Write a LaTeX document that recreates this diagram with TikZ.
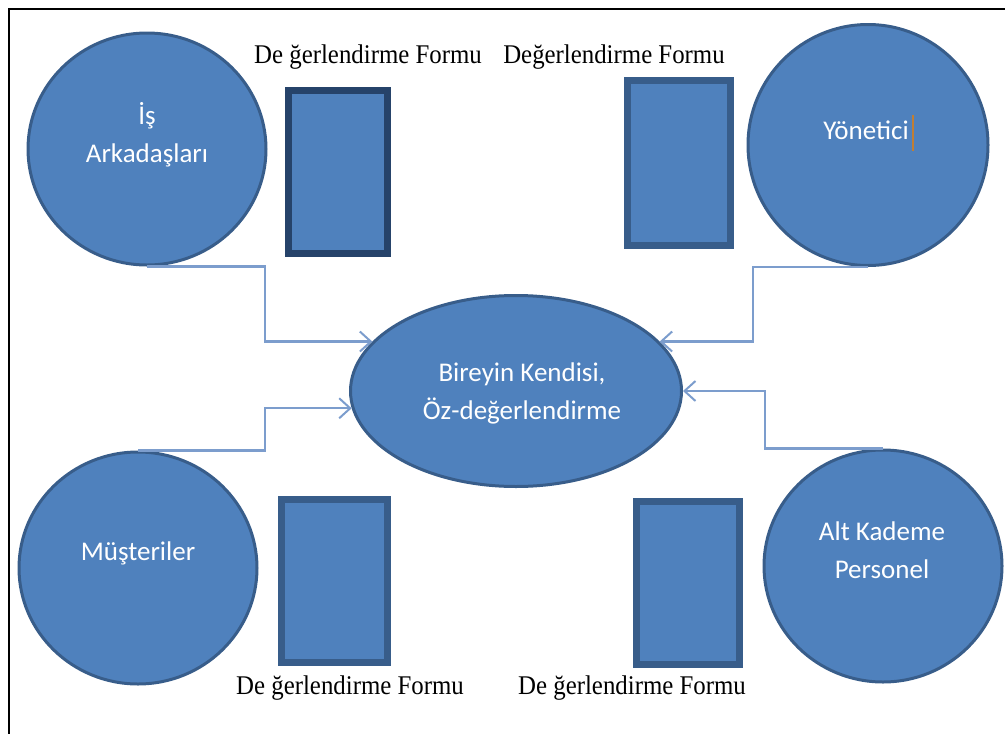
\documentclass[tikz,border=0pt]{standalone}
\usepackage{fontspec}
\setmainfont{Liberation Serif}
\newfontfamily\calib{Carlito}
\usetikzlibrary{shapes.geometric,arrows.meta}

\definecolor{officeblue}{HTML}{4F81BD}
\definecolor{rimblue}{HTML}{385D8A}
\definecolor{deepblue}{HTML}{26436A}
\definecolor{linkblue}{HTML}{7C9DCD}
\definecolor{cursororange}{HTML}{C07E34}

\newcommand{\formlabel}[1]{\scalebox{0.92}[1]{#1}}

\tikzset{
  party/.style={ellipse, fill=officeblue, draw=rimblue, line width=3pt,
    minimum width=238pt, minimum height=232pt, inner sep=0pt},
  selfnode/.style={ellipse, fill=officeblue, draw=rimblue, line width=3pt,
    minimum width=331pt, minimum height=191pt, inner sep=0pt},
  formbox/.style={rectangle, fill=officeblue, draw=rimblue, line width=7pt,
    inner sep=0pt},
  roletext/.style={text=white, align=center, font=\calib\fontsize{27}{38}\selectfont},
  formtext/.style={text=black, font=\fontsize{27}{30}\selectfont, inner sep=0pt},
  conn/.style={draw=linkblue, line width=2.2pt,
    -{Straight Barb[length=11pt,width=20pt,line width=2pt]}},
}

\begin{document}
\begin{tikzpicture}[x=1pt,y=-1pt]
\useasboundingbox (0,0) rectangle (1005,734);

% page frame (top and left edges)
\draw[line width=2pt] (1005,9) -- (9,9) -- (9,734);

% evaluating parties
\node[party] (isa) at (147,149) {};
\node[party, minimum width=240pt, minimum height=241pt] (yon) at (868,145) {};
\node[party] (mus) at (138,568) {};
\node[party] (alt) at (883,566) {};

% central self-evaluation
\node[selfnode] (self) at (516,391) {};

% role labels
\node[roletext] (isat) at (147,135) {İş\\Arkadaşları};
\node[roletext] (yont) at (866,130) {Yönetici};
\node[roletext] (must) at (138,553) {Müşteriler};
\node[roletext] (altt) at (882,550) {Alt Kademe\\Personel};
\node[roletext] (selft) at (522,393) {Bireyin Kendisi,\\Öz-değerlendirme};

% text cursor after the manager label
\coordinate (cur) at (913,115);
\draw[draw=cursororange, line width=1.6pt] (cur) -- ++(0,36);

% evaluation forms
\node[formbox, draw=deepblue, minimum width=99pt, minimum height=163pt] (f1) at (338,172) {};
\node[formbox, minimum width=103pt, minimum height=165pt] (f2) at (679,163) {};
\node[formbox, minimum width=106pt, minimum height=163pt] (f3) at (334.5,581) {};
\node[formbox, minimum width=103pt, minimum height=163pt] (f4) at (688,583) {};

\node[formtext] (l1) at (368,57) {\formlabel{De ğerlendirme Formu}};
\node[formtext] (l2) at (614,57) {\formlabel{Değerlendirme Formu}};
\node[formtext] (l3) at (350,688) {\formlabel{De ğerlendirme Formu}};
\node[formtext] (l4) at (632,688) {\formlabel{De ğerlendirme Formu}};

% bend points of the connectors
\coordinate (j1) at (265,300);
\coordinate (j2) at (753,300);
\coordinate (j3) at (265,430);
\coordinate (j4) at (765,420);

\draw[conn] (isa.south) -| (j1) |- (self.161);
\draw[conn] (yon.south) -| (j2) |- (self.19);
\draw[conn] (mus.north) -| (j3) |- (self.186);
\draw[conn] (alt.north) -| (j4) |- (self.east);
\end{tikzpicture}
\end{document}
